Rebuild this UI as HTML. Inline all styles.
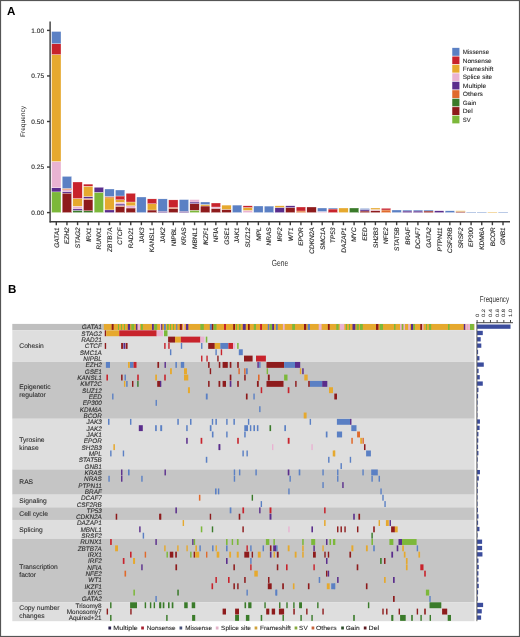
<!DOCTYPE html><html><head><meta charset="utf-8"><style>html,body{margin:0;padding:0;background:#fff}svg{display:block;will-change:transform}text{font-family:"Liberation Sans",sans-serif;text-rendering:geometricPrecision}</style></head><body>
<svg width="520" height="637" viewBox="0 0 520 637">
<rect x="0" y="0" width="520" height="637" fill="#fff"/>
<text x="7.1" y="14.9" font-size="11.6" font-weight="bold" fill="#000">A</text>
<text x="8.0" y="293" font-size="11.6" font-weight="bold" fill="#000">B</text>
<rect x="51.60" y="191.90" width="9.40" height="20.70" fill="#7CB83A" stroke="#fff" stroke-width="0.3"/>
<rect x="51.60" y="187.70" width="9.40" height="4.20" fill="#5A2D8C" stroke="#fff" stroke-width="0.3"/>
<rect x="51.60" y="161.50" width="9.40" height="26.20" fill="#E9B3D2" stroke="#fff" stroke-width="0.3"/>
<rect x="51.60" y="54.60" width="9.40" height="106.90" fill="#E6A92E" stroke="#fff" stroke-width="0.3"/>
<rect x="51.60" y="43.70" width="9.40" height="10.90" fill="#C8232C" stroke="#fff" stroke-width="0.3"/>
<rect x="51.60" y="31.50" width="9.40" height="12.20" fill="#5B80C4" stroke="#fff" stroke-width="0.3"/>
<rect x="62.24" y="193.10" width="9.40" height="19.50" fill="#8E1B1C" stroke="#fff" stroke-width="0.3"/>
<rect x="62.24" y="191.50" width="9.40" height="1.60" fill="#5A2D8C" stroke="#fff" stroke-width="0.3"/>
<rect x="62.24" y="189.70" width="9.40" height="1.80" fill="#E9B3D2" stroke="#fff" stroke-width="0.3"/>
<rect x="62.24" y="188.40" width="9.40" height="1.30" fill="#E06A2C" stroke="#fff" stroke-width="0.3"/>
<rect x="62.24" y="176.40" width="9.40" height="12.00" fill="#5B80C4" stroke="#fff" stroke-width="0.3"/>
<rect x="72.87" y="210.40" width="9.40" height="2.20" fill="#3A7B2A" stroke="#fff" stroke-width="0.3"/>
<rect x="72.87" y="208.90" width="9.40" height="1.50" fill="#5A2D8C" stroke="#fff" stroke-width="0.3"/>
<rect x="72.87" y="206.20" width="9.40" height="2.70" fill="#E9B3D2" stroke="#fff" stroke-width="0.3"/>
<rect x="72.87" y="198.50" width="9.40" height="7.70" fill="#E6A92E" stroke="#fff" stroke-width="0.3"/>
<rect x="72.87" y="182.00" width="9.40" height="16.50" fill="#C8232C" stroke="#fff" stroke-width="0.3"/>
<rect x="83.51" y="210.80" width="9.40" height="1.80" fill="#3A7B2A" stroke="#fff" stroke-width="0.3"/>
<rect x="83.51" y="199.70" width="9.40" height="11.10" fill="#8E1B1C" stroke="#fff" stroke-width="0.3"/>
<rect x="83.51" y="198.50" width="9.40" height="1.20" fill="#E06A2C" stroke="#fff" stroke-width="0.3"/>
<rect x="83.51" y="196.50" width="9.40" height="2.00" fill="#5A2D8C" stroke="#fff" stroke-width="0.3"/>
<rect x="83.51" y="186.20" width="9.40" height="10.30" fill="#E6A92E" stroke="#fff" stroke-width="0.3"/>
<rect x="83.51" y="184.10" width="9.40" height="2.10" fill="#C8232C" stroke="#fff" stroke-width="0.3"/>
<rect x="94.14" y="192.30" width="9.40" height="20.30" fill="#7CB83A" stroke="#fff" stroke-width="0.3"/>
<rect x="94.14" y="187.30" width="9.40" height="5.00" fill="#5A2D8C" stroke="#fff" stroke-width="0.3"/>
<rect x="104.78" y="209.90" width="9.40" height="2.70" fill="#5A2D8C" stroke="#fff" stroke-width="0.3"/>
<rect x="104.78" y="197.90" width="9.40" height="12.00" fill="#E6A92E" stroke="#fff" stroke-width="0.3"/>
<rect x="104.78" y="196.50" width="9.40" height="1.40" fill="#E06A2C" stroke="#fff" stroke-width="0.3"/>
<rect x="104.78" y="189.00" width="9.40" height="7.50" fill="#5B80C4" stroke="#fff" stroke-width="0.3"/>
<rect x="115.42" y="206.50" width="9.40" height="6.10" fill="#8E1B1C" stroke="#fff" stroke-width="0.3"/>
<rect x="115.42" y="205.60" width="9.40" height="0.90" fill="#E06A2C" stroke="#fff" stroke-width="0.3"/>
<rect x="115.42" y="204.00" width="9.40" height="1.60" fill="#5A2D8C" stroke="#fff" stroke-width="0.3"/>
<rect x="115.42" y="202.30" width="9.40" height="1.70" fill="#E9B3D2" stroke="#fff" stroke-width="0.3"/>
<rect x="115.42" y="199.80" width="9.40" height="2.50" fill="#E6A92E" stroke="#fff" stroke-width="0.3"/>
<rect x="115.42" y="196.00" width="9.40" height="3.80" fill="#C8232C" stroke="#fff" stroke-width="0.3"/>
<rect x="115.42" y="190.00" width="9.40" height="6.00" fill="#5B80C4" stroke="#fff" stroke-width="0.3"/>
<rect x="126.05" y="208.00" width="9.40" height="4.60" fill="#8E1B1C" stroke="#fff" stroke-width="0.3"/>
<rect x="126.05" y="205.80" width="9.40" height="2.20" fill="#E9B3D2" stroke="#fff" stroke-width="0.3"/>
<rect x="126.05" y="202.00" width="9.40" height="3.80" fill="#E6A92E" stroke="#fff" stroke-width="0.3"/>
<rect x="126.05" y="193.30" width="9.40" height="8.70" fill="#C8232C" stroke="#fff" stroke-width="0.3"/>
<rect x="136.69" y="197.00" width="9.40" height="15.60" fill="#5B80C4" stroke="#fff" stroke-width="0.3"/>
<rect x="147.32" y="210.00" width="9.40" height="2.60" fill="#8E1B1C" stroke="#fff" stroke-width="0.3"/>
<rect x="147.32" y="203.75" width="9.40" height="6.25" fill="#E6A92E" stroke="#fff" stroke-width="0.3"/>
<rect x="147.32" y="198.90" width="9.40" height="4.85" fill="#C8232C" stroke="#fff" stroke-width="0.3"/>
<rect x="157.96" y="211.20" width="9.40" height="1.40" fill="#5A2D8C" stroke="#fff" stroke-width="0.3"/>
<rect x="157.96" y="198.90" width="9.40" height="12.30" fill="#5B80C4" stroke="#fff" stroke-width="0.3"/>
<rect x="168.60" y="208.60" width="9.40" height="4.00" fill="#8E1B1C" stroke="#fff" stroke-width="0.3"/>
<rect x="168.60" y="207.60" width="9.40" height="1.00" fill="#E06A2C" stroke="#fff" stroke-width="0.3"/>
<rect x="168.60" y="199.90" width="9.40" height="7.70" fill="#C8232C" stroke="#fff" stroke-width="0.3"/>
<rect x="179.23" y="211.20" width="9.40" height="1.40" fill="#5A2D8C" stroke="#fff" stroke-width="0.3"/>
<rect x="179.23" y="199.60" width="9.40" height="11.60" fill="#5B80C4" stroke="#fff" stroke-width="0.3"/>
<rect x="189.87" y="210.20" width="9.40" height="2.40" fill="#7CB83A" stroke="#fff" stroke-width="0.3"/>
<rect x="189.87" y="203.50" width="9.40" height="6.70" fill="#8E1B1C" stroke="#fff" stroke-width="0.3"/>
<rect x="189.87" y="202.00" width="9.40" height="1.50" fill="#5A2D8C" stroke="#fff" stroke-width="0.3"/>
<rect x="189.87" y="199.60" width="9.40" height="2.40" fill="#E9B3D2" stroke="#fff" stroke-width="0.3"/>
<rect x="200.50" y="206.00" width="9.40" height="6.60" fill="#8E1B1C" stroke="#fff" stroke-width="0.3"/>
<rect x="200.50" y="204.50" width="9.40" height="1.50" fill="#E6A92E" stroke="#fff" stroke-width="0.3"/>
<rect x="200.50" y="202.00" width="9.40" height="2.50" fill="#5B80C4" stroke="#fff" stroke-width="0.3"/>
<rect x="211.14" y="208.30" width="9.40" height="4.30" fill="#8E1B1C" stroke="#fff" stroke-width="0.3"/>
<rect x="211.14" y="207.00" width="9.40" height="1.30" fill="#E9B3D2" stroke="#fff" stroke-width="0.3"/>
<rect x="211.14" y="203.00" width="9.40" height="4.00" fill="#C8232C" stroke="#fff" stroke-width="0.3"/>
<rect x="221.78" y="209.40" width="9.40" height="3.20" fill="#8E1B1C" stroke="#fff" stroke-width="0.3"/>
<rect x="221.78" y="205.10" width="9.40" height="4.30" fill="#E6A92E" stroke="#fff" stroke-width="0.3"/>
<rect x="232.41" y="205.10" width="9.40" height="7.50" fill="#5B80C4" stroke="#fff" stroke-width="0.3"/>
<rect x="243.05" y="210.40" width="9.40" height="2.20" fill="#E9B3D2" stroke="#fff" stroke-width="0.3"/>
<rect x="243.05" y="207.50" width="9.40" height="2.90" fill="#E6A92E" stroke="#fff" stroke-width="0.3"/>
<rect x="243.05" y="205.80" width="9.40" height="1.70" fill="#C8232C" stroke="#fff" stroke-width="0.3"/>
<rect x="253.68" y="206.00" width="9.40" height="6.60" fill="#5B80C4" stroke="#fff" stroke-width="0.3"/>
<rect x="264.32" y="206.10" width="9.40" height="6.50" fill="#5B80C4" stroke="#fff" stroke-width="0.3"/>
<rect x="274.96" y="207.50" width="9.40" height="5.10" fill="#5A2D8C" stroke="#fff" stroke-width="0.3"/>
<rect x="274.96" y="205.80" width="9.40" height="1.70" fill="#E6A92E" stroke="#fff" stroke-width="0.3"/>
<rect x="285.59" y="207.50" width="9.40" height="5.10" fill="#8E1B1C" stroke="#fff" stroke-width="0.3"/>
<rect x="285.59" y="205.80" width="9.40" height="1.70" fill="#5A2D8C" stroke="#fff" stroke-width="0.3"/>
<rect x="296.23" y="211.00" width="9.40" height="1.60" fill="#E06A2C" stroke="#fff" stroke-width="0.3"/>
<rect x="296.23" y="207.00" width="9.40" height="4.00" fill="#C8232C" stroke="#fff" stroke-width="0.3"/>
<rect x="306.86" y="207.00" width="9.40" height="5.60" fill="#8E1B1C" stroke="#fff" stroke-width="0.3"/>
<rect x="317.50" y="211.50" width="9.40" height="1.10" fill="#E9B3D2" stroke="#fff" stroke-width="0.3"/>
<rect x="317.50" y="208.00" width="9.40" height="3.50" fill="#5B80C4" stroke="#fff" stroke-width="0.3"/>
<rect x="328.14" y="209.00" width="9.40" height="3.60" fill="#C8232C" stroke="#fff" stroke-width="0.3"/>
<rect x="328.14" y="208.00" width="9.40" height="1.00" fill="#5B80C4" stroke="#fff" stroke-width="0.3"/>
<rect x="338.77" y="208.00" width="9.40" height="4.60" fill="#E6A92E" stroke="#fff" stroke-width="0.3"/>
<rect x="349.41" y="208.00" width="9.40" height="4.60" fill="#3A7B2A" stroke="#fff" stroke-width="0.3"/>
<rect x="360.04" y="211.00" width="9.40" height="1.60" fill="#8E1B1C" stroke="#fff" stroke-width="0.3"/>
<rect x="360.04" y="209.50" width="9.40" height="1.50" fill="#5A2D8C" stroke="#fff" stroke-width="0.3"/>
<rect x="360.04" y="208.50" width="9.40" height="1.00" fill="#5B80C4" stroke="#fff" stroke-width="0.3"/>
<rect x="370.68" y="210.50" width="9.40" height="2.10" fill="#8E1B1C" stroke="#fff" stroke-width="0.3"/>
<rect x="370.68" y="209.50" width="9.40" height="1.00" fill="#E9B3D2" stroke="#fff" stroke-width="0.3"/>
<rect x="370.68" y="208.00" width="9.40" height="1.50" fill="#E6A92E" stroke="#fff" stroke-width="0.3"/>
<rect x="381.32" y="210.00" width="9.40" height="2.60" fill="#E06A2C" stroke="#fff" stroke-width="0.3"/>
<rect x="381.32" y="208.30" width="9.40" height="1.70" fill="#C8232C" stroke="#fff" stroke-width="0.3"/>
<rect x="391.95" y="210.00" width="9.40" height="2.60" fill="#5B80C4" stroke="#fff" stroke-width="0.3"/>
<rect x="402.59" y="211.00" width="9.40" height="1.60" fill="#5A2D8C" stroke="#fff" stroke-width="0.3"/>
<rect x="402.59" y="210.00" width="9.40" height="1.00" fill="#5B80C4" stroke="#fff" stroke-width="0.3"/>
<rect x="413.22" y="211.00" width="9.40" height="1.60" fill="#5A2D8C" stroke="#fff" stroke-width="0.3"/>
<rect x="413.22" y="210.00" width="9.40" height="1.00" fill="#5B80C4" stroke="#fff" stroke-width="0.3"/>
<rect x="423.86" y="211.00" width="9.40" height="1.60" fill="#8E1B1C" stroke="#fff" stroke-width="0.3"/>
<rect x="423.86" y="210.00" width="9.40" height="1.00" fill="#5B80C4" stroke="#fff" stroke-width="0.3"/>
<rect x="434.50" y="210.80" width="9.40" height="1.80" fill="#5A2D8C" stroke="#fff" stroke-width="0.3"/>
<rect x="445.13" y="210.80" width="9.40" height="1.80" fill="#5B80C4" stroke="#fff" stroke-width="0.3"/>
<rect x="455.77" y="211.50" width="9.40" height="1.10" fill="#8E1B1C" stroke="#fff" stroke-width="0.3"/>
<rect x="455.77" y="210.80" width="9.40" height="0.70" fill="#E6A92E" stroke="#fff" stroke-width="0.3"/>
<rect x="466.40" y="212.00" width="9.40" height="0.60" fill="#5B80C4" stroke="#fff" stroke-width="0.3"/>
<rect x="477.04" y="212.00" width="9.40" height="0.60" fill="#5B80C4" stroke="#fff" stroke-width="0.3"/>
<rect x="487.68" y="212.00" width="9.40" height="0.60" fill="#E6A92E" stroke="#fff" stroke-width="0.3"/>
<rect x="498.31" y="212.00" width="9.40" height="0.60" fill="#5B80C4" stroke="#fff" stroke-width="0.3"/>
<g stroke="#3a3a3a" stroke-width="1.4" fill="none">
<line x1="50.1" y1="21.4" x2="50.1" y2="222.4"/>
<line x1="49.7" y1="221.8" x2="510" y2="221.8"/>
<line x1="47" y1="212.60" x2="50" y2="212.60"/>
<line x1="47" y1="167.05" x2="50" y2="167.05"/>
<line x1="47" y1="121.50" x2="50" y2="121.50"/>
<line x1="47" y1="75.95" x2="50" y2="75.95"/>
<line x1="47" y1="30.40" x2="50" y2="30.40"/>
<line x1="56.30" y1="222" x2="56.30" y2="225.2"/>
<line x1="66.94" y1="222" x2="66.94" y2="225.2"/>
<line x1="77.57" y1="222" x2="77.57" y2="225.2"/>
<line x1="88.21" y1="222" x2="88.21" y2="225.2"/>
<line x1="98.84" y1="222" x2="98.84" y2="225.2"/>
<line x1="109.48" y1="222" x2="109.48" y2="225.2"/>
<line x1="120.12" y1="222" x2="120.12" y2="225.2"/>
<line x1="130.75" y1="222" x2="130.75" y2="225.2"/>
<line x1="141.39" y1="222" x2="141.39" y2="225.2"/>
<line x1="152.02" y1="222" x2="152.02" y2="225.2"/>
<line x1="162.66" y1="222" x2="162.66" y2="225.2"/>
<line x1="173.30" y1="222" x2="173.30" y2="225.2"/>
<line x1="183.93" y1="222" x2="183.93" y2="225.2"/>
<line x1="194.57" y1="222" x2="194.57" y2="225.2"/>
<line x1="205.20" y1="222" x2="205.20" y2="225.2"/>
<line x1="215.84" y1="222" x2="215.84" y2="225.2"/>
<line x1="226.48" y1="222" x2="226.48" y2="225.2"/>
<line x1="237.11" y1="222" x2="237.11" y2="225.2"/>
<line x1="247.75" y1="222" x2="247.75" y2="225.2"/>
<line x1="258.38" y1="222" x2="258.38" y2="225.2"/>
<line x1="269.02" y1="222" x2="269.02" y2="225.2"/>
<line x1="279.66" y1="222" x2="279.66" y2="225.2"/>
<line x1="290.29" y1="222" x2="290.29" y2="225.2"/>
<line x1="300.93" y1="222" x2="300.93" y2="225.2"/>
<line x1="311.56" y1="222" x2="311.56" y2="225.2"/>
<line x1="322.20" y1="222" x2="322.20" y2="225.2"/>
<line x1="332.84" y1="222" x2="332.84" y2="225.2"/>
<line x1="343.47" y1="222" x2="343.47" y2="225.2"/>
<line x1="354.11" y1="222" x2="354.11" y2="225.2"/>
<line x1="364.74" y1="222" x2="364.74" y2="225.2"/>
<line x1="375.38" y1="222" x2="375.38" y2="225.2"/>
<line x1="386.02" y1="222" x2="386.02" y2="225.2"/>
<line x1="396.65" y1="222" x2="396.65" y2="225.2"/>
<line x1="407.29" y1="222" x2="407.29" y2="225.2"/>
<line x1="417.92" y1="222" x2="417.92" y2="225.2"/>
<line x1="428.56" y1="222" x2="428.56" y2="225.2"/>
<line x1="439.20" y1="222" x2="439.20" y2="225.2"/>
<line x1="449.83" y1="222" x2="449.83" y2="225.2"/>
<line x1="460.47" y1="222" x2="460.47" y2="225.2"/>
<line x1="471.10" y1="222" x2="471.10" y2="225.2"/>
<line x1="481.74" y1="222" x2="481.74" y2="225.2"/>
<line x1="492.38" y1="222" x2="492.38" y2="225.2"/>
<line x1="503.01" y1="222" x2="503.01" y2="225.2"/>
</g>
<g font-size="6.5" fill="#2a2a2a" stroke="#2a2a2a" stroke-width="0.12" text-anchor="end">
<text x="44" y="215.00">0.00</text>
<text x="44" y="169.45">0.25</text>
<text x="44" y="123.90">0.50</text>
<text x="44" y="78.35">0.75</text>
<text x="44" y="32.80">1.00</text>
</g>
<g font-size="6.5" fill="#2a2a2a" stroke="#2a2a2a" stroke-width="0.12" text-anchor="end">
<text transform="translate(58.60,227.6) rotate(-90) skewX(-7)">GATA1</text>
<text transform="translate(69.24,227.6) rotate(-90) skewX(-7)">EZH2</text>
<text transform="translate(79.87,227.6) rotate(-90) skewX(-7)">STAG2</text>
<text transform="translate(90.51,227.6) rotate(-90) skewX(-7)">IRX1</text>
<text transform="translate(101.14,227.6) rotate(-90) skewX(-7)">RUNX1</text>
<text transform="translate(111.78,227.6) rotate(-90) skewX(-7)">ZBTB7A</text>
<text transform="translate(122.42,227.6) rotate(-90) skewX(-7)">CTCF</text>
<text transform="translate(133.05,227.6) rotate(-90) skewX(-7)">RAD21</text>
<text transform="translate(143.69,227.6) rotate(-90) skewX(-7)">JAK3</text>
<text transform="translate(154.32,227.6) rotate(-90) skewX(-7)">KANSL1</text>
<text transform="translate(164.96,227.6) rotate(-90) skewX(-7)">JAK2</text>
<text transform="translate(175.60,227.6) rotate(-90) skewX(-7)">NIPBL</text>
<text transform="translate(186.23,227.6) rotate(-90) skewX(-7)">KRAS</text>
<text transform="translate(196.87,227.6) rotate(-90) skewX(-7)">MBNL1</text>
<text transform="translate(207.50,227.6) rotate(-90) skewX(-7)">IKZF1</text>
<text transform="translate(218.14,227.6) rotate(-90) skewX(-7)">NFIA</text>
<text transform="translate(228.78,227.6) rotate(-90) skewX(-7)">GSE1</text>
<text transform="translate(239.41,227.6) rotate(-90) skewX(-7)">JAK1</text>
<text transform="translate(250.05,227.6) rotate(-90) skewX(-7)">SUZ12</text>
<text transform="translate(260.68,227.6) rotate(-90) skewX(-7)">MPL</text>
<text transform="translate(271.32,227.6) rotate(-90) skewX(-7)">NRAS</text>
<text transform="translate(281.96,227.6) rotate(-90) skewX(-7)">IRF2</text>
<text transform="translate(292.59,227.6) rotate(-90) skewX(-7)">WT1</text>
<text transform="translate(303.23,227.6) rotate(-90) skewX(-7)">EPOR</text>
<text transform="translate(313.86,227.6) rotate(-90) skewX(-7)">CDKN2A</text>
<text transform="translate(324.50,227.6) rotate(-90) skewX(-7)">SMC1A</text>
<text transform="translate(335.14,227.6) rotate(-90) skewX(-7)">TP53</text>
<text transform="translate(345.77,227.6) rotate(-90) skewX(-7)">DAZAP1</text>
<text transform="translate(356.41,227.6) rotate(-90) skewX(-7)">MYC</text>
<text transform="translate(367.04,227.6) rotate(-90) skewX(-7)">EED</text>
<text transform="translate(377.68,227.6) rotate(-90) skewX(-7)">SH2B3</text>
<text transform="translate(388.32,227.6) rotate(-90) skewX(-7)">NFE2</text>
<text transform="translate(398.95,227.6) rotate(-90) skewX(-7)">STAT5B</text>
<text transform="translate(409.59,227.6) rotate(-90) skewX(-7)">BRAF</text>
<text transform="translate(420.22,227.6) rotate(-90) skewX(-7)">DCAF7</text>
<text transform="translate(430.86,227.6) rotate(-90) skewX(-7)">GATA2</text>
<text transform="translate(441.50,227.6) rotate(-90) skewX(-7)">PTPN11</text>
<text transform="translate(452.13,227.6) rotate(-90) skewX(-7)">CSF2RB</text>
<text transform="translate(462.77,227.6) rotate(-90) skewX(-7)">SRSF2</text>
<text transform="translate(473.40,227.6) rotate(-90) skewX(-7)">EP300</text>
<text transform="translate(484.04,227.6) rotate(-90) skewX(-7)">KDM6A</text>
<text transform="translate(494.68,227.6) rotate(-90) skewX(-7)">BCOR</text>
<text transform="translate(505.31,227.6) rotate(-90) skewX(-7)">GNB1</text>
</g>
<text transform="translate(24.6,121.5) rotate(-90)" font-size="6.6" fill="#222" text-anchor="middle">Frequency</text>
<text transform="translate(280,265.8) scale(0.74,1)" font-size="9" fill="#333" text-anchor="middle">Gene</text>
<rect x="452" y="47.70" width="7.8" height="8.45" fill="#5B80C4" stroke="#fff" stroke-width="0.5"/>
<text x="462.8" y="54.10" font-size="6.2" fill="#2a2a2a" stroke="#2a2a2a" stroke-width="0.1" textLength="26.3" lengthAdjust="spacingAndGlyphs">Missense</text>
<rect x="452" y="56.15" width="7.8" height="8.45" fill="#C8232C" stroke="#fff" stroke-width="0.5"/>
<text x="462.8" y="62.55" font-size="6.2" fill="#2a2a2a" stroke="#2a2a2a" stroke-width="0.1" textLength="28.9" lengthAdjust="spacingAndGlyphs">Nonsense</text>
<rect x="452" y="64.60" width="7.8" height="8.45" fill="#E6A92E" stroke="#fff" stroke-width="0.5"/>
<text x="462.8" y="71.00" font-size="6.2" fill="#2a2a2a" stroke="#2a2a2a" stroke-width="0.1" textLength="30.5" lengthAdjust="spacingAndGlyphs">Frameshift</text>
<rect x="452" y="73.05" width="7.8" height="8.45" fill="#E9B3D2" stroke="#fff" stroke-width="0.5"/>
<text x="462.8" y="79.45" font-size="6.2" fill="#2a2a2a" stroke="#2a2a2a" stroke-width="0.1" textLength="29.4" lengthAdjust="spacingAndGlyphs">Splice site</text>
<rect x="452" y="81.50" width="7.8" height="8.45" fill="#5A2D8C" stroke="#fff" stroke-width="0.5"/>
<text x="462.8" y="87.90" font-size="6.2" fill="#2a2a2a" stroke="#2a2a2a" stroke-width="0.1" textLength="23.6" lengthAdjust="spacingAndGlyphs">Multiple</text>
<rect x="452" y="89.95" width="7.8" height="8.45" fill="#E06A2C" stroke="#fff" stroke-width="0.5"/>
<text x="462.8" y="96.35" font-size="6.2" fill="#2a2a2a" stroke="#2a2a2a" stroke-width="0.1" textLength="20.2" lengthAdjust="spacingAndGlyphs">Others</text>
<rect x="452" y="98.40" width="7.8" height="8.45" fill="#3A7B2A" stroke="#fff" stroke-width="0.5"/>
<text x="462.8" y="104.80" font-size="6.2" fill="#2a2a2a" stroke="#2a2a2a" stroke-width="0.1" textLength="13.6" lengthAdjust="spacingAndGlyphs">Gain</text>
<rect x="452" y="106.85" width="7.8" height="8.45" fill="#8E1B1C" stroke="#fff" stroke-width="0.5"/>
<text x="462.8" y="113.25" font-size="6.2" fill="#2a2a2a" stroke="#2a2a2a" stroke-width="0.1" textLength="10.0" lengthAdjust="spacingAndGlyphs">Del</text>
<rect x="452" y="115.30" width="7.8" height="8.45" fill="#7CB83A" stroke="#fff" stroke-width="0.5"/>
<text x="462.8" y="121.70" font-size="6.2" fill="#2a2a2a" stroke="#2a2a2a" stroke-width="0.1" textLength="7.9" lengthAdjust="spacingAndGlyphs">SV</text>
<rect x="12.3" y="323.90" width="462.20" height="6.33" fill="#bfbfbf"/>
<rect x="12.3" y="330.22" width="462.20" height="31.62" fill="#dedede"/>
<text x="19.3" y="348.34" font-size="6.7" fill="#2a2a2a" stroke="#2a2a2a" stroke-width="0.08">Cohesin</text>
<rect x="12.3" y="361.85" width="462.20" height="56.93" fill="#c5c5c5"/>
<text x="19.3" y="388.71" font-size="6.7" fill="#2a2a2a" stroke="#2a2a2a" stroke-width="0.08">Epigenetic</text>
<text x="19.3" y="396.51" font-size="6.7" fill="#2a2a2a" stroke="#2a2a2a" stroke-width="0.08">regulator</text>
<rect x="12.3" y="418.77" width="462.20" height="50.60" fill="#dedede"/>
<text x="19.3" y="442.47" font-size="6.7" fill="#2a2a2a" stroke="#2a2a2a" stroke-width="0.08">Tyrosine</text>
<text x="19.3" y="450.27" font-size="6.7" fill="#2a2a2a" stroke="#2a2a2a" stroke-width="0.08">kinase</text>
<rect x="12.3" y="469.38" width="462.20" height="25.30" fill="#c5c5c5"/>
<text x="19.3" y="484.32" font-size="6.7" fill="#2a2a2a" stroke="#2a2a2a" stroke-width="0.08">RAS</text>
<rect x="12.3" y="494.67" width="462.20" height="12.65" fill="#dedede"/>
<text x="19.3" y="503.30" font-size="6.7" fill="#2a2a2a" stroke="#2a2a2a" stroke-width="0.08">Signaling</text>
<rect x="12.3" y="507.32" width="462.20" height="12.65" fill="#c5c5c5"/>
<text x="19.3" y="515.95" font-size="6.7" fill="#2a2a2a" stroke="#2a2a2a" stroke-width="0.08">Cell cycle</text>
<rect x="12.3" y="519.98" width="462.20" height="18.98" fill="#dedede"/>
<text x="19.3" y="531.76" font-size="6.7" fill="#2a2a2a" stroke="#2a2a2a" stroke-width="0.08">Splicing</text>
<rect x="12.3" y="538.95" width="462.20" height="63.25" fill="#c5c5c5"/>
<text x="19.3" y="568.98" font-size="6.7" fill="#2a2a2a" stroke="#2a2a2a" stroke-width="0.08">Transcription</text>
<text x="19.3" y="576.78" font-size="6.7" fill="#2a2a2a" stroke="#2a2a2a" stroke-width="0.08">factor</text>
<rect x="12.3" y="602.20" width="462.20" height="18.98" fill="#dedede"/>
<text x="19.3" y="610.09" font-size="6.7" fill="#2a2a2a" stroke="#2a2a2a" stroke-width="0.08">Copy number</text>
<text x="19.3" y="617.89" font-size="6.7" fill="#2a2a2a" stroke="#2a2a2a" stroke-width="0.08">changes</text>
<g font-size="6.4" fill="#2a2a2a" stroke="#2a2a2a" stroke-width="0.08" text-anchor="end">
<text transform="translate(101.6,329.40) skewX(-9)">GATA1</text>
<text transform="translate(101.6,335.72) skewX(-9)">STAG2</text>
<text transform="translate(101.6,342.05) skewX(-9)">RAD21</text>
<text transform="translate(101.6,348.38) skewX(-9)">CTCF</text>
<text transform="translate(101.6,354.70) skewX(-9)">SMC1A</text>
<text transform="translate(101.6,361.02) skewX(-9)">NIPBL</text>
<text transform="translate(101.6,367.35) skewX(-9)">EZH2</text>
<text transform="translate(101.6,373.67) skewX(-9)">GSE1</text>
<text transform="translate(101.6,380.00) skewX(-9)">KANSL1</text>
<text transform="translate(101.6,386.32) skewX(-9)">KMT2C</text>
<text transform="translate(101.6,392.65) skewX(-9)">SUZ12</text>
<text transform="translate(101.6,398.97) skewX(-9)">EED</text>
<text transform="translate(101.6,405.30) skewX(-9)">EP300</text>
<text transform="translate(101.6,411.62) skewX(-9)">KDM6A</text>
<text transform="translate(101.6,417.95) skewX(-9)">BCOR</text>
<text transform="translate(101.6,424.27) skewX(-9)">JAK3</text>
<text transform="translate(101.6,430.60) skewX(-9)">JAK2</text>
<text transform="translate(101.6,436.92) skewX(-9)">JAK1</text>
<text transform="translate(101.6,443.25) skewX(-9)">EPOR</text>
<text transform="translate(101.6,449.57) skewX(-9)">SH2B3</text>
<text transform="translate(101.6,455.90) skewX(-9)">MPL</text>
<text transform="translate(101.6,462.23) skewX(-9)">STAT5B</text>
<text transform="translate(101.6,468.55) skewX(-9)">GNB1</text>
<text transform="translate(101.6,474.88) skewX(-9)">KRAS</text>
<text transform="translate(101.6,481.20) skewX(-9)">NRAS</text>
<text transform="translate(101.6,487.52) skewX(-9)">PTPN11</text>
<text transform="translate(101.6,493.85) skewX(-9)">BRAF</text>
<text transform="translate(101.6,500.17) skewX(-9)">DCAF7</text>
<text transform="translate(101.6,506.50) skewX(-9)">CSF2RB</text>
<text transform="translate(101.6,512.83) skewX(-9)">TP53</text>
<text transform="translate(101.6,519.15) skewX(-9)">CDKN2A</text>
<text transform="translate(101.6,525.48) skewX(-9)">DAZAP1</text>
<text transform="translate(101.6,531.80) skewX(-9)">MBNL1</text>
<text transform="translate(101.6,538.12) skewX(-9)">SRSF2</text>
<text transform="translate(101.6,544.45) skewX(-9)">RUNX1</text>
<text transform="translate(101.6,550.77) skewX(-9)">ZBTB7A</text>
<text transform="translate(101.6,557.10) skewX(-9)">IRX1</text>
<text transform="translate(101.6,563.42) skewX(-9)">IRF2</text>
<text transform="translate(101.6,569.75) skewX(-9)">NFIA</text>
<text transform="translate(101.6,576.08) skewX(-9)">NFE2</text>
<text transform="translate(101.6,582.40) skewX(-9)">WT1</text>
<text transform="translate(101.6,588.72) skewX(-9)">IKZF1</text>
<text transform="translate(101.6,595.05) skewX(-9)">MYC</text>
<text transform="translate(101.6,601.38) skewX(-9)">GATA2</text>
<text x="101.6" y="607.70">Trisomy8</text>
<text x="101.6" y="614.02">Monosomy7</text>
<text x="101.6" y="620.35">Aquired+21</text>
</g>
<rect x="103.80" y="324.00" width="370.40" height="5.9" fill="#E6A92E"/>
<rect x="111.70" y="324.00" width="1.90" height="5.9" fill="#8E1B1C"/>
<rect x="118.00" y="324.00" width="1.00" height="5.9" fill="#7CB83A"/>
<rect x="121.00" y="324.00" width="1.00" height="5.9" fill="#7CB83A"/>
<rect x="124.00" y="324.00" width="1.00" height="5.9" fill="#7CB83A"/>
<rect x="127.80" y="324.00" width="2.30" height="5.9" fill="#5A2D8C"/>
<rect x="131.30" y="324.00" width="2.90" height="5.9" fill="#7CB83A"/>
<rect x="135.90" y="324.00" width="1.70" height="5.9" fill="#5A2D8C"/>
<rect x="137.60" y="324.00" width="2.40" height="5.9" fill="#E9B3D2"/>
<rect x="141.00" y="324.00" width="1.80" height="5.9" fill="#7CB83A"/>
<rect x="152.00" y="324.00" width="1.80" height="5.9" fill="#5A2D8C"/>
<rect x="154.30" y="324.00" width="2.90" height="5.9" fill="#7CB83A"/>
<rect x="160.00" y="324.00" width="1.20" height="5.9" fill="#E9B3D2"/>
<rect x="161.20" y="324.00" width="1.10" height="5.9" fill="#5A2D8C"/>
<rect x="164.00" y="324.00" width="1.80" height="5.9" fill="#5B80C4"/>
<rect x="167.00" y="324.00" width="1.70" height="5.9" fill="#7CB83A"/>
<rect x="170.00" y="324.00" width="1.00" height="5.9" fill="#7CB83A"/>
<rect x="173.00" y="324.00" width="1.00" height="5.9" fill="#7CB83A"/>
<rect x="176.20" y="324.00" width="1.10" height="5.9" fill="#5B80C4"/>
<rect x="179.80" y="324.00" width="2.10" height="5.9" fill="#8E1B1C"/>
<rect x="183.00" y="324.00" width="1.50" height="5.9" fill="#E9B3D2"/>
<rect x="186.00" y="324.00" width="2.30" height="5.9" fill="#5A2D8C"/>
<rect x="200.40" y="324.00" width="3.40" height="5.9" fill="#7CB83A"/>
<rect x="209.80" y="324.00" width="2.10" height="5.9" fill="#5B80C4"/>
<rect x="211.90" y="324.00" width="1.40" height="5.9" fill="#8E1B1C"/>
<rect x="213.70" y="324.00" width="2.80" height="5.9" fill="#7CB83A"/>
<rect x="224.00" y="324.00" width="2.00" height="5.9" fill="#C8232C"/>
<rect x="233.20" y="324.00" width="1.80" height="5.9" fill="#8E1B1C"/>
<rect x="236.00" y="324.00" width="1.00" height="5.9" fill="#7CB83A"/>
<rect x="239.00" y="324.00" width="1.50" height="5.9" fill="#7CB83A"/>
<rect x="242.80" y="324.00" width="2.90" height="5.9" fill="#5A2D8C"/>
<rect x="248.00" y="324.00" width="1.70" height="5.9" fill="#8E1B1C"/>
<rect x="253.80" y="324.00" width="2.20" height="5.9" fill="#7CB83A"/>
<rect x="260.10" y="324.00" width="1.90" height="5.9" fill="#C8232C"/>
<rect x="267.80" y="324.00" width="1.50" height="5.9" fill="#5B80C4"/>
<rect x="270.00" y="324.00" width="2.20" height="5.9" fill="#7CB83A"/>
<rect x="272.20" y="324.00" width="1.80" height="5.9" fill="#5A2D8C"/>
<rect x="276.00" y="324.00" width="1.70" height="5.9" fill="#5B80C4"/>
<rect x="282.90" y="324.00" width="1.80" height="5.9" fill="#E9B3D2"/>
<rect x="292.20" y="324.00" width="2.80" height="5.9" fill="#7CB83A"/>
<rect x="304.00" y="324.00" width="2.20" height="5.9" fill="#8E1B1C"/>
<rect x="307.70" y="324.00" width="2.30" height="5.9" fill="#5B80C4"/>
<rect x="318.70" y="324.00" width="2.90" height="5.9" fill="#E9B3D2"/>
<rect x="327.90" y="324.00" width="1.80" height="5.9" fill="#8E1B1C"/>
<rect x="336.30" y="324.00" width="2.30" height="5.9" fill="#7CB83A"/>
<rect x="339.80" y="324.00" width="4.60" height="5.9" fill="#E9B3D2"/>
<rect x="346.00" y="324.00" width="1.00" height="5.9" fill="#7CB83A"/>
<rect x="349.00" y="324.00" width="1.00" height="5.9" fill="#7CB83A"/>
<rect x="352.50" y="324.00" width="2.80" height="5.9" fill="#5A2D8C"/>
<rect x="356.50" y="324.00" width="2.30" height="5.9" fill="#7CB83A"/>
<rect x="360.00" y="324.00" width="2.80" height="5.9" fill="#7CB83A"/>
<rect x="376.00" y="324.00" width="2.40" height="5.9" fill="#8E1B1C"/>
<rect x="379.60" y="324.00" width="3.40" height="5.9" fill="#7CB83A"/>
<rect x="394.00" y="324.00" width="1.50" height="5.9" fill="#7CB83A"/>
<rect x="400.00" y="324.00" width="1.80" height="5.9" fill="#E9B3D2"/>
<rect x="401.80" y="324.00" width="1.70" height="5.9" fill="#7CB83A"/>
<rect x="403.50" y="324.00" width="1.50" height="5.9" fill="#E9B3D2"/>
<rect x="408.20" y="324.00" width="1.70" height="5.9" fill="#E9B3D2"/>
<rect x="411.00" y="324.00" width="2.30" height="5.9" fill="#5A2D8C"/>
<rect x="413.30" y="324.00" width="1.70" height="5.9" fill="#7CB83A"/>
<rect x="420.30" y="324.00" width="1.90" height="5.9" fill="#8E1B1C"/>
<rect x="422.20" y="324.00" width="1.30" height="5.9" fill="#E9B3D2"/>
<rect x="426.00" y="324.00" width="1.00" height="5.9" fill="#7CB83A"/>
<rect x="428.90" y="324.00" width="2.30" height="5.9" fill="#7CB83A"/>
<rect x="448.00" y="324.00" width="1.60" height="5.9" fill="#7CB83A"/>
<rect x="463.80" y="324.00" width="1.60" height="5.9" fill="#5A2D8C"/>
<rect x="465.40" y="324.00" width="2.30" height="5.9" fill="#E9B3D2"/>
<rect x="467.70" y="324.00" width="2.30" height="5.9" fill="#E9B3D2"/>
<rect x="470.00" y="324.00" width="3.80" height="5.9" fill="#7CB83A"/>
<rect x="104.75" y="330.32" width="1.40" height="5.9" fill="#8E1B1C"/>
<rect x="106.20" y="330.32" width="13.00" height="5.9" fill="#E6A92E"/>
<rect x="119.20" y="330.32" width="37.50" height="5.9" fill="#C8232C"/>
<rect x="156.70" y="330.32" width="6.20" height="5.9" fill="#E9B3D2"/>
<rect x="164.00" y="330.32" width="3.50" height="5.9" fill="#7CB83A"/>
<rect x="168.10" y="336.65" width="6.90" height="5.9" fill="#8E1B1C"/>
<rect x="175.00" y="336.65" width="5.80" height="5.9" fill="#E6A92E"/>
<rect x="180.80" y="336.65" width="19.60" height="5.9" fill="#C8232C"/>
<rect x="200.40" y="336.65" width="4.00" height="5.9" fill="#E9B3D2"/>
<rect x="205.79" y="336.65" width="1.52" height="5.9" fill="#7CB83A"/>
<rect x="104.75" y="342.98" width="1.40" height="5.9" fill="#8E1B1C"/>
<rect x="121.13" y="342.98" width="1.84" height="5.9" fill="#8E1B1C"/>
<rect x="123.43" y="342.98" width="1.84" height="5.9" fill="#5A2D8C"/>
<rect x="125.73" y="342.98" width="1.84" height="5.9" fill="#8E1B1C"/>
<rect x="164.18" y="342.98" width="1.44" height="5.9" fill="#C8232C"/>
<rect x="168.25" y="342.98" width="1.40" height="5.9" fill="#C8232C"/>
<rect x="180.80" y="342.98" width="1.40" height="5.9" fill="#5B80C4"/>
<rect x="201.05" y="342.98" width="1.40" height="5.9" fill="#5B80C4"/>
<rect x="208.20" y="342.98" width="6.60" height="5.9" fill="#8E1B1C"/>
<rect x="214.80" y="342.98" width="5.50" height="5.9" fill="#E6A92E"/>
<rect x="220.30" y="342.98" width="8.10" height="5.9" fill="#5B80C4"/>
<rect x="228.40" y="342.98" width="4.60" height="5.9" fill="#C8232C"/>
<rect x="233.23" y="342.98" width="1.84" height="5.9" fill="#E9B3D2"/>
<rect x="237.18" y="342.98" width="1.44" height="5.9" fill="#7CB83A"/>
<rect x="169.95" y="349.30" width="1.40" height="5.9" fill="#5B80C4"/>
<rect x="215.40" y="349.30" width="1.40" height="5.9" fill="#5B80C4"/>
<rect x="220.75" y="349.30" width="1.40" height="5.9" fill="#C8232C"/>
<rect x="238.80" y="349.30" width="4.00" height="5.9" fill="#5B80C4"/>
<rect x="201.05" y="355.62" width="1.40" height="5.9" fill="#C8232C"/>
<rect x="206.35" y="355.62" width="1.40" height="5.9" fill="#C8232C"/>
<rect x="217.25" y="355.62" width="1.40" height="5.9" fill="#8E1B1C"/>
<rect x="244.00" y="355.62" width="8.60" height="5.9" fill="#8E1B1C"/>
<rect x="256.00" y="355.62" width="9.90" height="5.9" fill="#C8232C"/>
<rect x="105.90" y="361.95" width="4.10" height="5.9" fill="#5B80C4"/>
<rect x="128.02" y="361.95" width="1.76" height="5.9" fill="#E6A92E"/>
<rect x="130.00" y="361.95" width="3.60" height="5.9" fill="#5B80C4"/>
<rect x="133.60" y="361.95" width="2.90" height="5.9" fill="#C8232C"/>
<rect x="157.41" y="361.95" width="1.68" height="5.9" fill="#8E1B1C"/>
<rect x="164.50" y="361.95" width="1.40" height="5.9" fill="#5A2D8C"/>
<rect x="175.39" y="361.95" width="1.52" height="5.9" fill="#5B80C4"/>
<rect x="180.80" y="361.95" width="3.40" height="5.9" fill="#5B80C4"/>
<rect x="208.09" y="361.95" width="1.52" height="5.9" fill="#8E1B1C"/>
<rect x="218.79" y="361.95" width="1.52" height="5.9" fill="#8E1B1C"/>
<rect x="222.60" y="361.95" width="5.20" height="5.9" fill="#8E1B1C"/>
<rect x="229.71" y="361.95" width="1.68" height="5.9" fill="#8E1B1C"/>
<rect x="237.20" y="361.95" width="1.60" height="5.9" fill="#8E1B1C"/>
<rect x="257.38" y="361.95" width="1.44" height="5.9" fill="#5A2D8C"/>
<rect x="259.15" y="361.95" width="1.40" height="5.9" fill="#5B80C4"/>
<rect x="266.50" y="361.95" width="17.60" height="5.9" fill="#8E1B1C"/>
<rect x="284.10" y="361.95" width="10.90" height="5.9" fill="#5B80C4"/>
<rect x="295.00" y="361.95" width="5.20" height="5.9" fill="#5A2D8C"/>
<rect x="170.03" y="368.27" width="1.84" height="5.9" fill="#E6A92E"/>
<rect x="184.00" y="368.27" width="3.00" height="5.9" fill="#E6A92E"/>
<rect x="209.75" y="368.27" width="1.40" height="5.9" fill="#8E1B1C"/>
<rect x="238.38" y="368.27" width="1.44" height="5.9" fill="#E06A2C"/>
<rect x="244.15" y="368.27" width="1.40" height="5.9" fill="#E06A2C"/>
<rect x="245.93" y="368.27" width="1.84" height="5.9" fill="#5B80C4"/>
<rect x="266.65" y="368.27" width="1.40" height="5.9" fill="#7CB83A"/>
<rect x="299.85" y="368.27" width="1.40" height="5.9" fill="#E6A92E"/>
<rect x="302.19" y="368.27" width="1.52" height="5.9" fill="#5A2D8C"/>
<rect x="106.40" y="374.60" width="1.60" height="5.9" fill="#C8232C"/>
<rect x="121.09" y="374.60" width="1.52" height="5.9" fill="#8E1B1C"/>
<rect x="124.48" y="374.60" width="1.44" height="5.9" fill="#5B80C4"/>
<rect x="137.20" y="374.60" width="1.60" height="5.9" fill="#C8232C"/>
<rect x="155.22" y="374.60" width="1.76" height="5.9" fill="#E6A92E"/>
<rect x="164.20" y="374.60" width="1.60" height="5.9" fill="#C8232C"/>
<rect x="184.00" y="374.60" width="4.30" height="5.9" fill="#E6A92E"/>
<rect x="229.71" y="374.60" width="1.68" height="5.9" fill="#8E1B1C"/>
<rect x="244.19" y="374.60" width="1.52" height="5.9" fill="#8E1B1C"/>
<rect x="258.00" y="374.60" width="1.60" height="5.9" fill="#E06A2C"/>
<rect x="267.84" y="374.60" width="1.92" height="5.9" fill="#8E1B1C"/>
<rect x="284.10" y="374.60" width="3.40" height="5.9" fill="#7CB83A"/>
<rect x="304.30" y="374.60" width="3.40" height="5.9" fill="#E6A92E"/>
<rect x="123.95" y="380.93" width="1.40" height="5.9" fill="#E6A92E"/>
<rect x="126.18" y="380.93" width="1.44" height="5.9" fill="#5B80C4"/>
<rect x="131.98" y="380.93" width="1.44" height="5.9" fill="#8E1B1C"/>
<rect x="137.18" y="380.93" width="1.44" height="5.9" fill="#3A7B2A"/>
<rect x="157.20" y="380.93" width="3.50" height="5.9" fill="#8E1B1C"/>
<rect x="159.90" y="380.93" width="1.40" height="5.9" fill="#5A2D8C"/>
<rect x="208.09" y="380.93" width="1.52" height="5.9" fill="#8E1B1C"/>
<rect x="218.52" y="380.93" width="1.76" height="5.9" fill="#8E1B1C"/>
<rect x="222.60" y="380.93" width="3.40" height="5.9" fill="#8E1B1C"/>
<rect x="229.71" y="380.93" width="1.68" height="5.9" fill="#5A2D8C"/>
<rect x="237.20" y="380.93" width="1.60" height="5.9" fill="#8E1B1C"/>
<rect x="256.93" y="380.93" width="1.84" height="5.9" fill="#8E1B1C"/>
<rect x="266.50" y="380.93" width="17.00" height="5.9" fill="#8E1B1C"/>
<rect x="295.18" y="380.93" width="1.44" height="5.9" fill="#8E1B1C"/>
<rect x="308.20" y="380.93" width="1.60" height="5.9" fill="#8E1B1C"/>
<rect x="310.00" y="380.93" width="12.20" height="5.9" fill="#5B80C4"/>
<rect x="322.20" y="380.93" width="5.10" height="5.9" fill="#5A2D8C"/>
<rect x="187.95" y="387.25" width="2.00" height="5.9" fill="#E6A92E"/>
<rect x="260.69" y="387.25" width="1.52" height="5.9" fill="#C8232C"/>
<rect x="287.71" y="387.25" width="1.68" height="5.9" fill="#C8232C"/>
<rect x="329.00" y="387.25" width="4.00" height="5.9" fill="#E6A92E"/>
<rect x="112.10" y="393.57" width="1.40" height="5.9" fill="#5B80C4"/>
<rect x="205.83" y="393.57" width="1.84" height="5.9" fill="#5B80C4"/>
<rect x="245.91" y="393.57" width="1.68" height="5.9" fill="#8E1B1C"/>
<rect x="253.35" y="393.57" width="1.40" height="5.9" fill="#5B80C4"/>
<rect x="334.30" y="393.57" width="2.70" height="5.9" fill="#8E1B1C"/>
<rect x="155.55" y="399.90" width="1.40" height="5.9" fill="#5B80C4"/>
<rect x="259.15" y="406.23" width="1.40" height="5.9" fill="#5B80C4"/>
<rect x="303.70" y="412.55" width="2.90" height="5.9" fill="#E6A92E"/>
<rect x="107.99" y="418.88" width="1.52" height="5.9" fill="#5B80C4"/>
<rect x="129.98" y="418.88" width="1.44" height="5.9" fill="#5B80C4"/>
<rect x="177.29" y="418.88" width="1.52" height="5.9" fill="#5B80C4"/>
<rect x="189.99" y="418.88" width="1.52" height="5.9" fill="#5B80C4"/>
<rect x="211.80" y="418.88" width="1.40" height="5.9" fill="#5B80C4"/>
<rect x="215.39" y="418.88" width="1.52" height="5.9" fill="#5B80C4"/>
<rect x="226.18" y="418.88" width="1.44" height="5.9" fill="#5B80C4"/>
<rect x="233.39" y="418.88" width="1.52" height="5.9" fill="#5B80C4"/>
<rect x="247.90" y="418.88" width="1.40" height="5.9" fill="#5B80C4"/>
<rect x="309.65" y="418.88" width="1.40" height="5.9" fill="#5B80C4"/>
<rect x="336.90" y="418.88" width="13.30" height="5.9" fill="#5B80C4"/>
<rect x="350.05" y="418.88" width="1.40" height="5.9" fill="#5A2D8C"/>
<rect x="138.80" y="425.20" width="4.00" height="5.9" fill="#5A2D8C"/>
<rect x="155.11" y="425.20" width="1.68" height="5.9" fill="#5B80C4"/>
<rect x="160.24" y="425.20" width="1.92" height="5.9" fill="#5B80C4"/>
<rect x="186.19" y="425.20" width="1.52" height="5.9" fill="#5B80C4"/>
<rect x="209.81" y="425.20" width="1.68" height="5.9" fill="#5B80C4"/>
<rect x="244.30" y="425.20" width="3.70" height="5.9" fill="#5B80C4"/>
<rect x="249.88" y="425.20" width="1.44" height="5.9" fill="#5B80C4"/>
<rect x="253.40" y="425.20" width="1.60" height="5.9" fill="#5B80C4"/>
<rect x="256.89" y="425.20" width="1.52" height="5.9" fill="#5B80C4"/>
<rect x="269.50" y="425.20" width="1.60" height="5.9" fill="#3A7B2A"/>
<rect x="284.31" y="425.20" width="1.68" height="5.9" fill="#5B80C4"/>
<rect x="351.30" y="425.20" width="5.20" height="5.9" fill="#5B80C4"/>
<rect x="211.90" y="431.52" width="1.60" height="5.9" fill="#5B80C4"/>
<rect x="226.18" y="431.52" width="1.44" height="5.9" fill="#5B80C4"/>
<rect x="244.19" y="431.52" width="1.52" height="5.9" fill="#5B80C4"/>
<rect x="325.81" y="431.52" width="1.68" height="5.9" fill="#5B80C4"/>
<rect x="336.90" y="431.52" width="5.20" height="5.9" fill="#5B80C4"/>
<rect x="357.10" y="431.52" width="2.90" height="5.9" fill="#E06A2C"/>
<rect x="186.19" y="437.85" width="1.52" height="5.9" fill="#5A2D8C"/>
<rect x="200.61" y="437.85" width="1.68" height="5.9" fill="#C8232C"/>
<rect x="237.20" y="437.85" width="1.60" height="5.9" fill="#C8232C"/>
<rect x="287.73" y="437.85" width="1.84" height="5.9" fill="#C8232C"/>
<rect x="351.29" y="437.85" width="1.52" height="5.9" fill="#E06A2C"/>
<rect x="360.23" y="437.85" width="1.84" height="5.9" fill="#E6A92E"/>
<rect x="362.45" y="437.85" width="1.40" height="5.9" fill="#E06A2C"/>
<rect x="113.39" y="444.18" width="1.52" height="5.9" fill="#E6A92E"/>
<rect x="218.45" y="444.18" width="1.40" height="5.9" fill="#5A2D8C"/>
<rect x="219.00" y="444.18" width="1.40" height="5.9" fill="#5A2D8C"/>
<rect x="272.00" y="444.18" width="1.40" height="5.9" fill="#E9B3D2"/>
<rect x="311.35" y="444.18" width="1.40" height="5.9" fill="#E9B3D2"/>
<rect x="363.99" y="444.18" width="1.52" height="5.9" fill="#8E1B1C"/>
<rect x="110.15" y="450.50" width="1.40" height="5.9" fill="#5B80C4"/>
<rect x="122.75" y="450.50" width="1.40" height="5.9" fill="#5B80C4"/>
<rect x="242.38" y="450.50" width="1.44" height="5.9" fill="#5B80C4"/>
<rect x="246.45" y="450.50" width="1.40" height="5.9" fill="#5B80C4"/>
<rect x="332.73" y="450.50" width="1.84" height="5.9" fill="#E6A92E"/>
<rect x="333.90" y="450.50" width="1.40" height="5.9" fill="#E6A92E"/>
<rect x="366.10" y="450.50" width="4.80" height="5.9" fill="#5B80C4"/>
<rect x="205.79" y="456.83" width="1.52" height="5.9" fill="#5B80C4"/>
<rect x="328.08" y="456.83" width="1.44" height="5.9" fill="#5B80C4"/>
<rect x="349.75" y="456.83" width="1.40" height="5.9" fill="#5B80C4"/>
<rect x="340.48" y="463.15" width="1.44" height="5.9" fill="#5B80C4"/>
<rect x="121.05" y="469.48" width="1.40" height="5.9" fill="#5A2D8C"/>
<rect x="128.00" y="469.48" width="1.60" height="5.9" fill="#5B80C4"/>
<rect x="164.50" y="469.48" width="1.40" height="5.9" fill="#5A2D8C"/>
<rect x="233.75" y="469.48" width="1.40" height="5.9" fill="#5B80C4"/>
<rect x="238.95" y="469.48" width="1.40" height="5.9" fill="#5B80C4"/>
<rect x="255.38" y="469.48" width="1.44" height="5.9" fill="#5B80C4"/>
<rect x="287.71" y="469.48" width="1.68" height="5.9" fill="#5A2D8C"/>
<rect x="298.70" y="469.48" width="1.60" height="5.9" fill="#5B80C4"/>
<rect x="322.35" y="469.48" width="1.40" height="5.9" fill="#5B80C4"/>
<rect x="337.05" y="469.48" width="1.40" height="5.9" fill="#5B80C4"/>
<rect x="362.35" y="469.48" width="1.40" height="5.9" fill="#5B80C4"/>
<rect x="371.20" y="469.48" width="6.60" height="5.9" fill="#5B80C4"/>
<rect x="108.35" y="475.80" width="1.40" height="5.9" fill="#5B80C4"/>
<rect x="121.05" y="475.80" width="1.40" height="5.9" fill="#5A2D8C"/>
<rect x="141.25" y="475.80" width="1.40" height="5.9" fill="#5B80C4"/>
<rect x="233.75" y="475.80" width="1.40" height="5.9" fill="#5B80C4"/>
<rect x="289.45" y="475.80" width="1.40" height="5.9" fill="#5B80C4"/>
<rect x="337.05" y="475.80" width="1.40" height="5.9" fill="#5B80C4"/>
<rect x="371.38" y="475.80" width="1.44" height="5.9" fill="#5B80C4"/>
<rect x="378.58" y="475.80" width="1.44" height="5.9" fill="#5B80C4"/>
<rect x="322.35" y="482.12" width="1.40" height="5.9" fill="#5B80C4"/>
<rect x="342.25" y="482.12" width="1.40" height="5.9" fill="#5A2D8C"/>
<rect x="215.00" y="488.45" width="1.60" height="5.9" fill="#5B80C4"/>
<rect x="217.90" y="488.45" width="1.40" height="5.9" fill="#5B80C4"/>
<rect x="288.25" y="488.45" width="1.40" height="5.9" fill="#5B80C4"/>
<rect x="380.35" y="488.45" width="1.40" height="5.9" fill="#5B80C4"/>
<rect x="198.89" y="494.77" width="1.52" height="5.9" fill="#E06A2C"/>
<rect x="251.65" y="494.77" width="1.40" height="5.9" fill="#3A7B2A"/>
<rect x="382.30" y="494.77" width="1.40" height="5.9" fill="#5B80C4"/>
<rect x="260.65" y="501.10" width="1.40" height="5.9" fill="#5B80C4"/>
<rect x="384.35" y="501.10" width="1.40" height="5.9" fill="#5B80C4"/>
<rect x="175.39" y="507.43" width="1.52" height="5.9" fill="#5A2D8C"/>
<rect x="229.71" y="507.43" width="1.68" height="5.9" fill="#5B80C4"/>
<rect x="242.41" y="507.43" width="1.68" height="5.9" fill="#C8232C"/>
<rect x="259.15" y="507.43" width="1.40" height="5.9" fill="#5A2D8C"/>
<rect x="269.54" y="507.43" width="1.92" height="5.9" fill="#C8232C"/>
<rect x="324.09" y="507.43" width="1.52" height="5.9" fill="#C8232C"/>
<rect x="115.69" y="513.75" width="1.52" height="5.9" fill="#8E1B1C"/>
<rect x="159.15" y="513.75" width="1.40" height="5.9" fill="#8E1B1C"/>
<rect x="159.90" y="513.75" width="1.40" height="5.9" fill="#8E1B1C"/>
<rect x="209.75" y="513.75" width="1.40" height="5.9" fill="#8E1B1C"/>
<rect x="238.70" y="513.75" width="1.60" height="5.9" fill="#8E1B1C"/>
<rect x="269.54" y="513.75" width="1.92" height="5.9" fill="#5A2D8C"/>
<rect x="353.20" y="513.75" width="1.60" height="5.9" fill="#5A2D8C"/>
<rect x="358.41" y="513.75" width="1.68" height="5.9" fill="#8E1B1C"/>
<rect x="182.65" y="520.08" width="1.40" height="5.9" fill="#E6A92E"/>
<rect x="324.09" y="520.08" width="1.52" height="5.9" fill="#E6A92E"/>
<rect x="378.58" y="520.08" width="1.44" height="5.9" fill="#E6A92E"/>
<rect x="385.90" y="520.08" width="2.90" height="5.9" fill="#E6A92E"/>
<rect x="389.55" y="520.08" width="1.40" height="5.9" fill="#5A2D8C"/>
<rect x="139.18" y="526.40" width="1.44" height="5.9" fill="#5A2D8C"/>
<rect x="200.79" y="526.40" width="1.52" height="5.9" fill="#7CB83A"/>
<rect x="211.80" y="526.40" width="1.40" height="5.9" fill="#3A7B2A"/>
<rect x="242.38" y="526.40" width="1.44" height="5.9" fill="#8E1B1C"/>
<rect x="288.25" y="526.40" width="1.40" height="5.9" fill="#E9B3D2"/>
<rect x="311.40" y="526.40" width="1.60" height="5.9" fill="#5A2D8C"/>
<rect x="337.05" y="526.40" width="1.40" height="5.9" fill="#8E1B1C"/>
<rect x="340.48" y="526.40" width="1.44" height="5.9" fill="#8E1B1C"/>
<rect x="344.35" y="526.40" width="1.40" height="5.9" fill="#8E1B1C"/>
<rect x="356.98" y="526.40" width="1.44" height="5.9" fill="#8E1B1C"/>
<rect x="373.20" y="526.40" width="1.60" height="5.9" fill="#8E1B1C"/>
<rect x="391.10" y="526.40" width="3.80" height="5.9" fill="#8E1B1C"/>
<rect x="394.90" y="526.40" width="2.80" height="5.9" fill="#E6A92E"/>
<rect x="142.68" y="532.73" width="1.44" height="5.9" fill="#5B80C4"/>
<rect x="371.38" y="532.73" width="1.44" height="5.9" fill="#3A7B2A"/>
<rect x="110.11" y="539.05" width="1.68" height="5.9" fill="#C8232C"/>
<rect x="155.38" y="539.05" width="1.44" height="5.9" fill="#5A2D8C"/>
<rect x="192.20" y="539.05" width="1.40" height="5.9" fill="#5A2D8C"/>
<rect x="193.75" y="539.05" width="1.40" height="5.9" fill="#7CB83A"/>
<rect x="226.00" y="539.05" width="1.60" height="5.9" fill="#7CB83A"/>
<rect x="231.70" y="539.05" width="1.40" height="5.9" fill="#7CB83A"/>
<rect x="236.91" y="539.05" width="1.68" height="5.9" fill="#7CB83A"/>
<rect x="265.90" y="539.05" width="3.40" height="5.9" fill="#7CB83A"/>
<rect x="273.39" y="539.05" width="1.52" height="5.9" fill="#7CB83A"/>
<rect x="302.19" y="539.05" width="1.52" height="5.9" fill="#7CB83A"/>
<rect x="311.20" y="539.05" width="4.00" height="5.9" fill="#7CB83A"/>
<rect x="325.99" y="539.05" width="1.52" height="5.9" fill="#5A2D8C"/>
<rect x="329.49" y="539.05" width="1.52" height="5.9" fill="#7CB83A"/>
<rect x="333.00" y="539.05" width="1.60" height="5.9" fill="#7CB83A"/>
<rect x="333.90" y="539.05" width="1.40" height="5.9" fill="#7CB83A"/>
<rect x="371.40" y="539.05" width="1.60" height="5.9" fill="#7CB83A"/>
<rect x="389.40" y="539.05" width="3.40" height="5.9" fill="#7CB83A"/>
<rect x="391.95" y="539.05" width="1.40" height="5.9" fill="#7CB83A"/>
<rect x="398.50" y="539.05" width="3.50" height="5.9" fill="#5A2D8C"/>
<rect x="402.00" y="539.05" width="14.60" height="5.9" fill="#7CB83A"/>
<rect x="115.10" y="545.38" width="2.90" height="5.9" fill="#E6A92E"/>
<rect x="164.18" y="545.38" width="1.44" height="5.9" fill="#E6A92E"/>
<rect x="177.20" y="545.38" width="1.40" height="5.9" fill="#E6A92E"/>
<rect x="186.40" y="545.38" width="1.40" height="5.9" fill="#E6A92E"/>
<rect x="195.40" y="545.38" width="1.60" height="5.9" fill="#E6A92E"/>
<rect x="199.38" y="545.38" width="1.44" height="5.9" fill="#5B80C4"/>
<rect x="212.08" y="545.38" width="1.44" height="5.9" fill="#5B80C4"/>
<rect x="215.55" y="545.38" width="1.40" height="5.9" fill="#E6A92E"/>
<rect x="226.00" y="545.38" width="1.60" height="5.9" fill="#5B80C4"/>
<rect x="246.45" y="545.38" width="1.40" height="5.9" fill="#C8232C"/>
<rect x="250.20" y="545.38" width="1.40" height="5.9" fill="#5B80C4"/>
<rect x="262.58" y="545.38" width="1.44" height="5.9" fill="#5B80C4"/>
<rect x="269.90" y="545.38" width="1.60" height="5.9" fill="#8E1B1C"/>
<rect x="273.20" y="545.38" width="3.10" height="5.9" fill="#5A2D8C"/>
<rect x="276.15" y="545.38" width="1.40" height="5.9" fill="#5B80C4"/>
<rect x="287.73" y="545.38" width="1.84" height="5.9" fill="#E6A92E"/>
<rect x="302.19" y="545.38" width="1.52" height="5.9" fill="#E6A92E"/>
<rect x="313.38" y="545.38" width="1.44" height="5.9" fill="#5A2D8C"/>
<rect x="322.35" y="545.38" width="1.40" height="5.9" fill="#E6A92E"/>
<rect x="351.35" y="545.38" width="2.00" height="5.9" fill="#E6A92E"/>
<rect x="365.93" y="545.38" width="1.84" height="5.9" fill="#E6A92E"/>
<rect x="373.20" y="545.38" width="1.60" height="5.9" fill="#5B80C4"/>
<rect x="396.70" y="545.38" width="1.60" height="5.9" fill="#5A2D8C"/>
<rect x="402.21" y="545.38" width="1.68" height="5.9" fill="#E6A92E"/>
<rect x="416.70" y="545.38" width="1.40" height="5.9" fill="#5B80C4"/>
<rect x="130.00" y="551.70" width="1.60" height="5.9" fill="#C8232C"/>
<rect x="144.68" y="551.70" width="1.44" height="5.9" fill="#E06A2C"/>
<rect x="166.48" y="551.70" width="1.44" height="5.9" fill="#7CB83A"/>
<rect x="169.80" y="551.70" width="3.50" height="5.9" fill="#8E1B1C"/>
<rect x="175.21" y="551.70" width="1.68" height="5.9" fill="#8E1B1C"/>
<rect x="190.15" y="551.70" width="1.40" height="5.9" fill="#7CB83A"/>
<rect x="193.65" y="551.70" width="1.40" height="5.9" fill="#8E1B1C"/>
<rect x="195.20" y="551.70" width="4.00" height="5.9" fill="#E6A92E"/>
<rect x="206.00" y="551.70" width="1.40" height="5.9" fill="#E06A2C"/>
<rect x="216.68" y="551.70" width="1.44" height="5.9" fill="#E6A92E"/>
<rect x="217.90" y="551.70" width="1.40" height="5.9" fill="#E6A92E"/>
<rect x="229.23" y="551.70" width="1.84" height="5.9" fill="#E6A92E"/>
<rect x="236.75" y="551.70" width="2.00" height="5.9" fill="#E6A92E"/>
<rect x="244.30" y="551.70" width="4.90" height="5.9" fill="#8E1B1C"/>
<rect x="251.65" y="551.70" width="1.40" height="5.9" fill="#8E1B1C"/>
<rect x="257.80" y="551.70" width="2.90" height="5.9" fill="#E6A92E"/>
<rect x="269.90" y="551.70" width="1.60" height="5.9" fill="#5A2D8C"/>
<rect x="273.55" y="551.70" width="1.40" height="5.9" fill="#E6A92E"/>
<rect x="276.83" y="551.70" width="1.84" height="5.9" fill="#8E1B1C"/>
<rect x="294.73" y="551.70" width="1.84" height="5.9" fill="#E6A92E"/>
<rect x="302.19" y="551.70" width="1.52" height="5.9" fill="#E6A92E"/>
<rect x="313.00" y="551.70" width="2.80" height="5.9" fill="#8E1B1C"/>
<rect x="324.30" y="551.70" width="1.40" height="5.9" fill="#8E1B1C"/>
<rect x="327.80" y="551.70" width="1.40" height="5.9" fill="#8E1B1C"/>
<rect x="349.41" y="551.70" width="1.68" height="5.9" fill="#8E1B1C"/>
<rect x="391.32" y="551.70" width="1.76" height="5.9" fill="#5A2D8C"/>
<rect x="403.81" y="551.70" width="1.68" height="5.9" fill="#E6A92E"/>
<rect x="418.41" y="551.70" width="1.68" height="5.9" fill="#E6A92E"/>
<rect x="122.81" y="558.02" width="1.68" height="5.9" fill="#C8232C"/>
<rect x="133.05" y="558.02" width="2.00" height="5.9" fill="#E6A92E"/>
<rect x="226.00" y="558.02" width="1.60" height="5.9" fill="#5A2D8C"/>
<rect x="250.20" y="558.02" width="1.40" height="5.9" fill="#5B80C4"/>
<rect x="325.99" y="558.02" width="1.52" height="5.9" fill="#5A2D8C"/>
<rect x="380.10" y="558.02" width="1.60" height="5.9" fill="#3A7B2A"/>
<rect x="383.99" y="558.02" width="1.52" height="5.9" fill="#8E1B1C"/>
<rect x="405.91" y="558.02" width="1.68" height="5.9" fill="#E6A92E"/>
<rect x="141.25" y="564.35" width="1.40" height="5.9" fill="#5A2D8C"/>
<rect x="175.41" y="564.35" width="1.68" height="5.9" fill="#8E1B1C"/>
<rect x="233.39" y="564.35" width="1.52" height="5.9" fill="#8E1B1C"/>
<rect x="250.20" y="564.35" width="1.40" height="5.9" fill="#C8232C"/>
<rect x="276.79" y="564.35" width="1.52" height="5.9" fill="#8E1B1C"/>
<rect x="286.00" y="564.35" width="1.60" height="5.9" fill="#C8232C"/>
<rect x="313.38" y="564.35" width="1.44" height="5.9" fill="#C8232C"/>
<rect x="356.70" y="564.35" width="1.60" height="5.9" fill="#8E1B1C"/>
<rect x="405.91" y="564.35" width="1.68" height="5.9" fill="#E6A92E"/>
<rect x="420.30" y="564.35" width="3.20" height="5.9" fill="#C8232C"/>
<rect x="124.50" y="570.68" width="1.60" height="5.9" fill="#E06A2C"/>
<rect x="254.30" y="570.68" width="3.50" height="5.9" fill="#E6A92E"/>
<rect x="325.98" y="570.68" width="1.44" height="5.9" fill="#8E1B1C"/>
<rect x="327.75" y="570.68" width="1.40" height="5.9" fill="#5A2D8C"/>
<rect x="424.20" y="570.68" width="1.60" height="5.9" fill="#C8232C"/>
<rect x="215.39" y="577.00" width="1.52" height="5.9" fill="#C8232C"/>
<rect x="228.00" y="577.00" width="1.60" height="5.9" fill="#C8232C"/>
<rect x="244.19" y="577.00" width="1.52" height="5.9" fill="#8E1B1C"/>
<rect x="267.99" y="577.00" width="1.52" height="5.9" fill="#8E1B1C"/>
<rect x="318.69" y="577.00" width="1.52" height="5.9" fill="#5B80C4"/>
<rect x="337.09" y="577.00" width="1.52" height="5.9" fill="#5A2D8C"/>
<rect x="384.01" y="577.00" width="1.68" height="5.9" fill="#E6A92E"/>
<rect x="393.01" y="577.00" width="1.68" height="5.9" fill="#5A2D8C"/>
<rect x="211.50" y="583.32" width="1.60" height="5.9" fill="#C8232C"/>
<rect x="233.39" y="583.32" width="1.52" height="5.9" fill="#8E1B1C"/>
<rect x="237.18" y="583.32" width="1.44" height="5.9" fill="#8E1B1C"/>
<rect x="267.80" y="583.32" width="3.90" height="5.9" fill="#8E1B1C"/>
<rect x="282.21" y="583.32" width="1.68" height="5.9" fill="#8E1B1C"/>
<rect x="292.90" y="583.32" width="1.60" height="5.9" fill="#E6A92E"/>
<rect x="307.90" y="583.32" width="1.60" height="5.9" fill="#8E1B1C"/>
<rect x="326.80" y="583.32" width="2.90" height="5.9" fill="#E6A92E"/>
<rect x="331.20" y="583.32" width="3.60" height="5.9" fill="#5B80C4"/>
<rect x="333.90" y="583.32" width="1.40" height="5.9" fill="#5B80C4"/>
<rect x="365.90" y="583.32" width="1.60" height="5.9" fill="#8E1B1C"/>
<rect x="133.39" y="589.65" width="1.52" height="5.9" fill="#7CB83A"/>
<rect x="177.29" y="589.65" width="1.52" height="5.9" fill="#3A7B2A"/>
<rect x="246.45" y="589.65" width="1.40" height="5.9" fill="#5B80C4"/>
<rect x="275.25" y="589.65" width="1.40" height="5.9" fill="#5B80C4"/>
<rect x="275.90" y="589.65" width="1.40" height="5.9" fill="#5B80C4"/>
<rect x="425.90" y="589.65" width="3.30" height="5.9" fill="#7CB83A"/>
<rect x="155.38" y="595.98" width="1.44" height="5.9" fill="#5B80C4"/>
<rect x="393.01" y="595.98" width="1.68" height="5.9" fill="#8E1B1C"/>
<rect x="429.30" y="595.98" width="1.40" height="5.9" fill="#5B80C4"/>
<rect x="110.08" y="602.30" width="1.44" height="5.9" fill="#3A7B2A"/>
<rect x="130.10" y="602.30" width="6.90" height="5.9" fill="#3A7B2A"/>
<rect x="144.68" y="602.30" width="1.44" height="5.9" fill="#3A7B2A"/>
<rect x="149.88" y="602.30" width="1.44" height="5.9" fill="#3A7B2A"/>
<rect x="153.65" y="602.30" width="1.40" height="5.9" fill="#3A7B2A"/>
<rect x="159.15" y="602.30" width="1.40" height="5.9" fill="#3A7B2A"/>
<rect x="159.90" y="602.30" width="1.40" height="5.9" fill="#3A7B2A"/>
<rect x="162.71" y="602.30" width="1.68" height="5.9" fill="#3A7B2A"/>
<rect x="168.00" y="602.30" width="1.60" height="5.9" fill="#3A7B2A"/>
<rect x="171.71" y="602.30" width="1.68" height="5.9" fill="#3A7B2A"/>
<rect x="184.20" y="602.30" width="3.50" height="5.9" fill="#3A7B2A"/>
<rect x="191.70" y="602.30" width="3.50" height="5.9" fill="#3A7B2A"/>
<rect x="244.50" y="602.30" width="1.60" height="5.9" fill="#3A7B2A"/>
<rect x="248.20" y="602.30" width="3.30" height="5.9" fill="#3A7B2A"/>
<rect x="264.35" y="602.30" width="1.40" height="5.9" fill="#3A7B2A"/>
<rect x="279.05" y="602.30" width="1.40" height="5.9" fill="#3A7B2A"/>
<rect x="286.30" y="602.30" width="1.40" height="5.9" fill="#3A7B2A"/>
<rect x="293.20" y="602.30" width="1.40" height="5.9" fill="#3A7B2A"/>
<rect x="299.10" y="602.30" width="2.90" height="5.9" fill="#3A7B2A"/>
<rect x="317.15" y="602.30" width="1.40" height="5.9" fill="#3A7B2A"/>
<rect x="367.88" y="602.30" width="1.44" height="5.9" fill="#3A7B2A"/>
<rect x="429.50" y="602.30" width="11.80" height="5.9" fill="#3A7B2A"/>
<rect x="106.65" y="608.62" width="1.40" height="5.9" fill="#8E1B1C"/>
<rect x="130.25" y="608.62" width="1.40" height="5.9" fill="#8E1B1C"/>
<rect x="222.60" y="608.62" width="3.40" height="5.9" fill="#8E1B1C"/>
<rect x="235.10" y="608.62" width="3.90" height="5.9" fill="#8E1B1C"/>
<rect x="266.20" y="608.62" width="3.10" height="5.9" fill="#8E1B1C"/>
<rect x="271.70" y="608.62" width="3.40" height="5.9" fill="#8E1B1C"/>
<rect x="278.90" y="608.62" width="5.20" height="5.9" fill="#8E1B1C"/>
<rect x="293.29" y="608.62" width="1.52" height="5.9" fill="#8E1B1C"/>
<rect x="306.15" y="608.62" width="1.40" height="5.9" fill="#8E1B1C"/>
<rect x="322.35" y="608.62" width="1.40" height="5.9" fill="#8E1B1C"/>
<rect x="382.30" y="608.62" width="1.40" height="5.9" fill="#8E1B1C"/>
<rect x="386.08" y="608.62" width="1.44" height="5.9" fill="#8E1B1C"/>
<rect x="398.60" y="608.62" width="1.40" height="5.9" fill="#8E1B1C"/>
<rect x="416.70" y="608.62" width="1.40" height="5.9" fill="#8E1B1C"/>
<rect x="424.20" y="608.62" width="1.60" height="5.9" fill="#8E1B1C"/>
<rect x="442.10" y="608.62" width="5.10" height="5.9" fill="#8E1B1C"/>
<rect x="110.08" y="614.95" width="1.44" height="5.9" fill="#3A7B2A"/>
<rect x="166.18" y="614.95" width="1.44" height="5.9" fill="#3A7B2A"/>
<rect x="192.10" y="614.95" width="3.10" height="5.9" fill="#3A7B2A"/>
<rect x="235.10" y="614.95" width="3.90" height="5.9" fill="#3A7B2A"/>
<rect x="245.90" y="614.95" width="3.50" height="5.9" fill="#3A7B2A"/>
<rect x="260.69" y="614.95" width="1.52" height="5.9" fill="#3A7B2A"/>
<rect x="282.48" y="614.95" width="1.44" height="5.9" fill="#3A7B2A"/>
<rect x="300.38" y="614.95" width="1.44" height="5.9" fill="#3A7B2A"/>
<rect x="311.35" y="614.95" width="1.40" height="5.9" fill="#3A7B2A"/>
<rect x="353.20" y="614.95" width="1.60" height="5.9" fill="#3A7B2A"/>
<rect x="391.25" y="614.95" width="1.40" height="5.9" fill="#3A7B2A"/>
<rect x="391.95" y="614.95" width="1.40" height="5.9" fill="#3A7B2A"/>
<rect x="400.10" y="614.95" width="5.60" height="5.9" fill="#3A7B2A"/>
<rect x="411.20" y="614.95" width="1.60" height="5.9" fill="#3A7B2A"/>
<rect x="420.40" y="614.95" width="1.40" height="5.9" fill="#3A7B2A"/>
<rect x="429.60" y="614.95" width="1.40" height="5.9" fill="#3A7B2A"/>
<rect x="447.70" y="614.95" width="3.30" height="5.9" fill="#3A7B2A"/>
<rect x="477.10" y="324.50" width="33.40" height="4.3" fill="#3b4c9c"/>
<rect x="477.10" y="330.82" width="5.68" height="4.3" fill="#3b4c9c"/>
<rect x="477.10" y="337.15" width="3.61" height="4.3" fill="#3b4c9c"/>
<rect x="477.10" y="343.48" width="4.21" height="4.3" fill="#3b4c9c"/>
<rect x="477.10" y="349.80" width="1.00" height="4.3" fill="#3b4c9c"/>
<rect x="477.10" y="356.12" width="2.34" height="4.3" fill="#3b4c9c"/>
<rect x="477.10" y="362.45" width="6.68" height="4.3" fill="#3b4c9c"/>
<rect x="477.10" y="368.77" width="1.50" height="4.3" fill="#3b4c9c"/>
<rect x="477.10" y="375.10" width="2.67" height="4.3" fill="#3b4c9c"/>
<rect x="477.10" y="381.43" width="5.68" height="4.3" fill="#3b4c9c"/>
<rect x="477.10" y="387.75" width="1.34" height="4.3" fill="#3b4c9c"/>
<rect x="477.10" y="394.07" width="1.00" height="4.3" fill="#3b4c9c"/>
<rect x="477.10" y="400.40" width="0.50" height="4.3" fill="#3b4c9c"/>
<rect x="477.10" y="406.73" width="0.33" height="4.3" fill="#3b4c9c"/>
<rect x="477.10" y="413.05" width="0.33" height="4.3" fill="#3b4c9c"/>
<rect x="477.10" y="419.38" width="2.84" height="4.3" fill="#3b4c9c"/>
<rect x="477.10" y="425.70" width="2.50" height="4.3" fill="#3b4c9c"/>
<rect x="477.10" y="432.02" width="1.34" height="4.3" fill="#3b4c9c"/>
<rect x="477.10" y="438.35" width="1.17" height="4.3" fill="#3b4c9c"/>
<rect x="477.10" y="444.68" width="1.00" height="4.3" fill="#3b4c9c"/>
<rect x="477.10" y="451.00" width="1.34" height="4.3" fill="#3b4c9c"/>
<rect x="477.10" y="457.33" width="0.67" height="4.3" fill="#3b4c9c"/>
<rect x="477.10" y="463.65" width="0.33" height="4.3" fill="#3b4c9c"/>
<rect x="477.10" y="469.98" width="2.84" height="4.3" fill="#3b4c9c"/>
<rect x="477.10" y="476.30" width="1.67" height="4.3" fill="#3b4c9c"/>
<rect x="477.10" y="482.62" width="0.67" height="4.3" fill="#3b4c9c"/>
<rect x="477.10" y="488.95" width="0.67" height="4.3" fill="#3b4c9c"/>
<rect x="477.10" y="495.27" width="0.50" height="4.3" fill="#3b4c9c"/>
<rect x="477.10" y="501.60" width="0.50" height="4.3" fill="#3b4c9c"/>
<rect x="477.10" y="507.93" width="0.83" height="4.3" fill="#3b4c9c"/>
<rect x="477.10" y="514.25" width="1.34" height="4.3" fill="#3b4c9c"/>
<rect x="477.10" y="520.58" width="1.00" height="4.3" fill="#3b4c9c"/>
<rect x="477.10" y="526.90" width="2.34" height="4.3" fill="#3b4c9c"/>
<rect x="477.10" y="533.23" width="0.50" height="4.3" fill="#3b4c9c"/>
<rect x="477.10" y="539.55" width="5.01" height="4.3" fill="#3b4c9c"/>
<rect x="477.10" y="545.88" width="5.01" height="4.3" fill="#3b4c9c"/>
<rect x="477.10" y="552.20" width="5.34" height="4.3" fill="#3b4c9c"/>
<rect x="477.10" y="558.52" width="1.34" height="4.3" fill="#3b4c9c"/>
<rect x="477.10" y="564.85" width="1.67" height="4.3" fill="#3b4c9c"/>
<rect x="477.10" y="571.18" width="1.34" height="4.3" fill="#3b4c9c"/>
<rect x="477.10" y="577.50" width="1.34" height="4.3" fill="#3b4c9c"/>
<rect x="477.10" y="583.82" width="1.67" height="4.3" fill="#3b4c9c"/>
<rect x="477.10" y="590.15" width="1.00" height="4.3" fill="#3b4c9c"/>
<rect x="477.10" y="596.48" width="0.67" height="4.3" fill="#3b4c9c"/>
<rect x="477.10" y="602.80" width="6.01" height="4.3" fill="#3b4c9c"/>
<rect x="477.10" y="609.12" width="4.68" height="4.3" fill="#3b4c9c"/>
<rect x="477.10" y="615.45" width="4.01" height="4.3" fill="#3b4c9c"/>
<g stroke="#333" stroke-width="0.9">
<line x1="476.5" y1="322.7" x2="513" y2="322.7"/>
<line x1="477.10" y1="320" x2="477.10" y2="322.6"/>
<line x1="483.78" y1="320" x2="483.78" y2="322.6"/>
<line x1="490.46" y1="320" x2="490.46" y2="322.6"/>
<line x1="497.14" y1="320" x2="497.14" y2="322.6"/>
<line x1="503.82" y1="320" x2="503.82" y2="322.6"/>
<line x1="510.50" y1="320" x2="510.50" y2="322.6"/>
</g>
<g font-size="5.9" fill="#2a2a2a" stroke="#2a2a2a" stroke-width="0.08">
<text transform="translate(478.50,317.1) rotate(-90) scale(1,0.8)">0</text>
<text transform="translate(485.18,317.1) rotate(-90) scale(1,0.8)">0.2</text>
<text transform="translate(491.86,317.1) rotate(-90) scale(1,0.8)">0.4</text>
<text transform="translate(498.54,317.1) rotate(-90) scale(1,0.8)">0.6</text>
<text transform="translate(505.22,317.1) rotate(-90) scale(1,0.8)">0.8</text>
<text transform="translate(511.90,317.1) rotate(-90) scale(1,0.8)">1.0</text>
<line x1="476.9" y1="322.2" x2="476.9" y2="621.2" stroke="#333" stroke-width="0.8"/>
</g>
<text transform="translate(494.4,302.4) scale(0.72,1)" font-size="8.6" fill="#333" text-anchor="middle">Frequency</text>
<rect x="108.4" y="626.5" width="2.7" height="3" fill="#2a2250"/>
<text x="113.3" y="629.7" font-size="6.1" fill="#2a2a2a" stroke="#2a2a2a" stroke-width="0.1" textLength="24.4" lengthAdjust="spacingAndGlyphs">Multiple</text>
<rect x="141.2" y="626.5" width="2.7" height="3" fill="#a8202e"/>
<text x="146.7" y="629.7" font-size="6.1" fill="#2a2a2a" stroke="#2a2a2a" stroke-width="0.1" textLength="28.9" lengthAdjust="spacingAndGlyphs">Nonsense</text>
<rect x="179.5" y="626.5" width="2.7" height="3" fill="#46507a"/>
<text x="185.3" y="629.7" font-size="6.1" fill="#2a2a2a" stroke="#2a2a2a" stroke-width="0.1" textLength="26.6" lengthAdjust="spacingAndGlyphs">Missense</text>
<rect x="215.8" y="626.5" width="2.7" height="3" fill="#e2b2c8"/>
<text x="221.1" y="629.7" font-size="6.1" fill="#2a2a2a" stroke="#2a2a2a" stroke-width="0.1" textLength="29.8" lengthAdjust="spacingAndGlyphs">Splice site</text>
<rect x="254.6" y="626.5" width="2.7" height="3" fill="#cfa23c"/>
<text x="259.9" y="629.7" font-size="6.1" fill="#2a2a2a" stroke="#2a2a2a" stroke-width="0.1" textLength="30.9" lengthAdjust="spacingAndGlyphs">Frameshift</text>
<rect x="294.6" y="626.5" width="2.7" height="3" fill="#86a83e"/>
<text x="299.1" y="629.7" font-size="6.1" fill="#2a2a2a" stroke="#2a2a2a" stroke-width="0.1" textLength="8.6" lengthAdjust="spacingAndGlyphs">SV</text>
<rect x="311.6" y="626.5" width="2.7" height="3" fill="#c8623a"/>
<text x="316" y="629.7" font-size="6.1" fill="#2a2a2a" stroke="#2a2a2a" stroke-width="0.1" textLength="20.7" lengthAdjust="spacingAndGlyphs">Others</text>
<rect x="341.2" y="626.5" width="2.7" height="3" fill="#2f4e2b"/>
<text x="345.7" y="629.7" font-size="6.1" fill="#2a2a2a" stroke="#2a2a2a" stroke-width="0.1" textLength="13.9" lengthAdjust="spacingAndGlyphs">Gain</text>
<rect x="363.8" y="626.5" width="2.7" height="3" fill="#5e1a20"/>
<text x="368.6" y="629.7" font-size="6.1" fill="#2a2a2a" stroke="#2a2a2a" stroke-width="0.1" textLength="10.6" lengthAdjust="spacingAndGlyphs">Del</text>
<rect x="0.5" y="0.5" width="519" height="636" fill="none" stroke="#555" stroke-width="1.2"/>
</svg></body></html>
